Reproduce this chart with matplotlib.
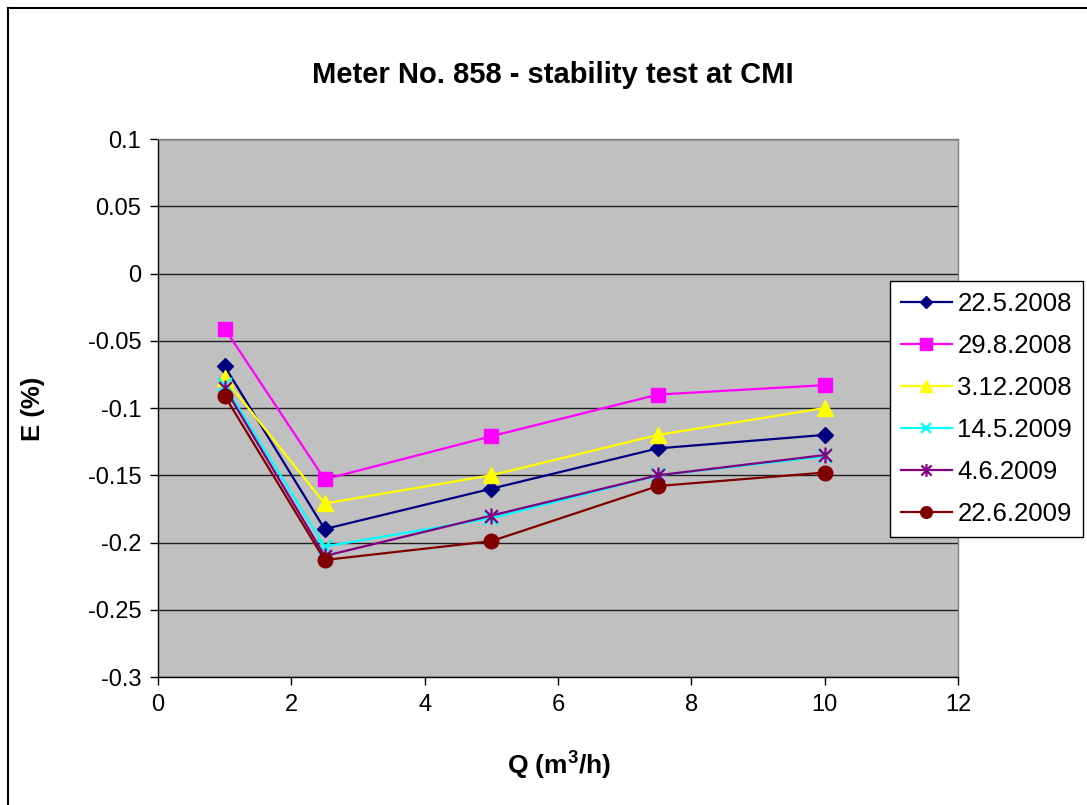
import matplotlib
matplotlib.use("Agg")
import matplotlib.pyplot as plt
from matplotlib.path import Path
from matplotlib.lines import Line2D

plt.rcParams['font.family'] = ['Liberation Sans', 'DejaVu Sans']
plt.rcParams['mathtext.fontset'] = 'custom'
plt.rcParams['mathtext.bf'] = 'Liberation Sans:bold'
plt.rcParams['mathtext.rm'] = 'Liberation Sans:bold'
plt.rcParams['mathtext.default'] = 'bf'

# Flow rates (m3/h)
flow = [1, 2.5, 5, 7.5, 10]

# Error of indication E (%) per test date
e_22_5_2008 = [-0.069, -0.190, -0.160, -0.130, -0.120]
e_29_8_2008 = [-0.041, -0.153, -0.121, -0.090, -0.083]
e_3_12_2008 = [-0.078, -0.171, -0.150, -0.120, -0.100]
e_14_5_2009 = [-0.083, -0.203, -0.182, -0.150, -0.136]
e_4_6_2009 = [-0.085, -0.210, -0.180, -0.150, -0.135]
e_22_6_2009 = [-0.091, -0.213, -0.199, -0.158, -0.148]

labels = ['22.5.2008', '29.8.2008', '3.12.2008', '14.5.2009', '4.6.2009', '22.6.2009']
series = [e_22_5_2008, e_29_8_2008, e_3_12_2008, e_14_5_2009, e_4_6_2009, e_22_6_2009]

# Asterisk marker: vertical stroke plus an X
star = Path([(0, -1), (0, 1), (-0.8, -0.8), (0.8, 0.8), (-0.8, 0.8), (0.8, -0.8)],
            [Path.MOVETO, Path.LINETO, Path.MOVETO, Path.LINETO, Path.MOVETO, Path.LINETO])

styles = [
    dict(color='#000080', marker='D', markersize=8),
    dict(color='#FF00FF', marker='s', markersize=10),
    dict(color='#FFFF00', marker='^', markersize=11),
    dict(color='#00FFFF', marker='x', markersize=9.5, markeredgewidth=1.6),
    dict(color='#800080', marker=star, markersize=11.5, markeredgewidth=1.6),
    dict(color='#800000', marker='o', markersize=10.5),
]

fig = plt.figure(figsize=(10.87, 8.05), dpi=100)
ax = fig.add_axes([158 / 1087, 1 - 677 / 805, 800 / 1087, 538 / 805])
ax.set_facecolor('#C0C0C0')

for vals, lab, st in zip(series, labels, styles):
    ax.plot(flow, vals, linewidth=1.6, label=lab, zorder=3, **st)

ax.set_xlim(0, 12)
ax.set_ylim(-0.3, 0.1)
ax.set_xticks([0, 2, 4, 6, 8, 10, 12])
ax.set_yticks([0.1, 0.05, 0, -0.05, -0.1, -0.15, -0.2, -0.25, -0.3])
ax.set_yticklabels(['0.1', '0.05', '0', '-0.05', '-0.1', '-0.15', '-0.2', '-0.25', '-0.3'])
ax.yaxis.grid(True, color='#202020', linewidth=1.0, zorder=1)
ax.set_axisbelow(True)
ax.tick_params(axis='both', direction='out', length=6, width=1, labelsize=17, colors='black', pad=6)

for side in ['top', 'right']:
    ax.spines[side].set_color('#808080')
    ax.spines[side].set_linewidth(1)
for side in ['left', 'bottom']:
    ax.spines[side].set_color('black')
    ax.spines[side].set_linewidth(1)

fig.text(553 / 1087, 1 - 75 / 805, 'Meter No. 858 - stability test at CMI',
         fontsize=21, fontweight='bold', ha='center', va='center')
fig.text(559 / 1087, 1 - 766 / 805, r'Q (m$^{3}$/h)', fontsize=19, fontweight='bold',
         ha='center', va='center')
fig.text(33 / 1087, 1 - 409 / 805, 'E (%)', fontsize=18.5, fontweight='bold',
         ha='center', va='center', rotation=90)

leg = fig.legend(loc='upper left', bbox_to_anchor=(890 / 1087, 1 - 281 / 805),
                 frameon=True, fancybox=False, edgecolor='black', framealpha=1,
                 fontsize=18.5, handlelength=2.0, handletextpad=0.2,
                 labelspacing=0.7, borderpad=0.42, borderaxespad=0, markerscale=0.8)
leg.get_frame().set_linewidth(1)

# Chart area border along top and left edges
fig.add_artist(Line2D([8 / 1087, 1.0], [1 - 8.5 / 805, 1 - 8.5 / 805],
                      transform=fig.transFigure, color='black', linewidth=1.5))
fig.add_artist(Line2D([8 / 1087, 8 / 1087], [0.0, 1 - 8.5 / 805],
                      transform=fig.transFigure, color='black', linewidth=1.5))

fig.savefig('out.png', dpi=100)
